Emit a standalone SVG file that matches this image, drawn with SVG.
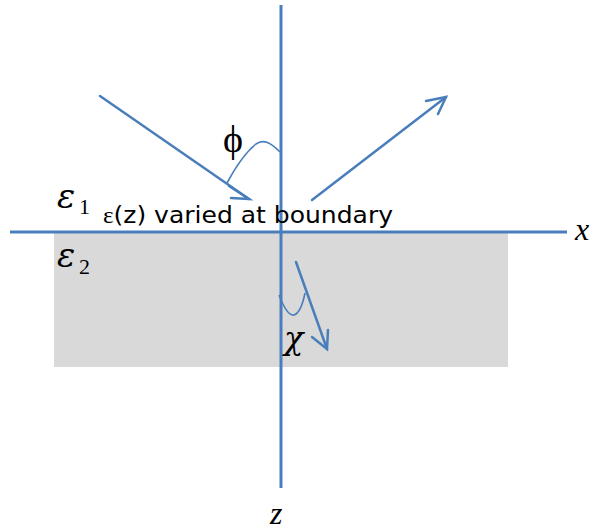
<svg xmlns="http://www.w3.org/2000/svg" width="596" height="531" viewBox="0 0 596 531">
<style>
.ax{stroke:#4a7ebb;stroke-width:3;fill:none}
.ray{stroke:#4a7ebb;stroke-width:2.5;fill:none;stroke-linecap:round}
.arc{stroke:#4a7ebb;stroke-width:1.6;fill:none}
.m{font-family:"Liberation Serif",serif;fill:#000}
.e{font-family:"DejaVu Serif",serif;font-style:italic;fill:#000}
.s{font-family:"DejaVu Sans",sans-serif;fill:#000}
</style>
<rect id="medium2" x="54" y="232" width="454" height="135" fill="#d9d9d9"/>
<g id="connectors">
<line class="ax" x1="10" y1="232" x2="567" y2="232"/>
<line class="ax" x1="281" y1="5" x2="281" y2="488"/>
<line class="ray" x1="100" y1="96" x2="249" y2="199"/>
<polyline class="ray" points="229,186 249,199 231,198"/>
<line class="ray" x1="312" y1="200" x2="446" y2="97"/>
<polyline class="ray" points="426,101 446,97 438,114"/>
<line class="ray" x1="296" y1="262" x2="327" y2="349"/>
<polyline class="ray" points="312,337 327,349 328,330"/>
<path class="arc" d="M280,152 C272,144 264,138 256,144 C246,152 235,168 227,183"/>
<path class="arc" d="M279,295 C284,308 289,316 294,315 C300,313 303,303 305,293"/>
</g>
<g id="labels">
<text class="m" x="223" y="152" font-size="38">ϕ</text>
<text class="e" x="284" y="349" font-size="32">χ</text>
<text class="e" x="57" y="208" font-size="34">ε</text>
<text class="m" x="79" y="214" font-size="22">1</text>
<text class="e" x="57" y="267" font-size="34">ε</text>
<text class="m" x="79" y="274" font-size="22">2</text>
<text class="s" x="103" y="223" font-size="23" textLength="290" lengthAdjust="spacingAndGlyphs"><tspan font-family="Liberation Serif, serif">ε</tspan>(z) varied at boundary</text>
<text class="m" x="575" y="240" font-size="32" font-style="italic">x</text>
<text class="m" x="270" y="524" font-size="32" font-style="italic">z</text>
</g>
</svg>
